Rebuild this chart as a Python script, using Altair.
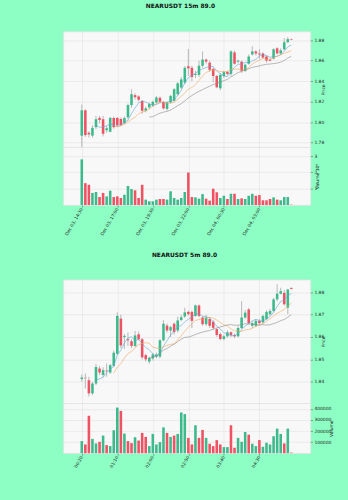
import json
import altair as alt
import pandas as pd

BG = "#8dffc4"
UP = "#3cba8c"
DOWN = "#ef5262"
WICK = "#8c8c8c"
FACE = "#f8f8f8"
GRID = "#dedede"
FONT = "DejaVu Sans"
MA_WINDOWS = [5, 10, 20]
MA_COLORS = ["#5ea3d6", "#f2a65a", "#8a8a8a"]

title_15 = "NEARUSDT 15m 89.0"
title_5 = "NEARUSDT 5m 89.0"
labels_15 = ["Dec 03, 14:30", "Dec 03, 17:00", "Dec 03, 19:30",
             "Dec 03, 22:00", "Dec 04, 00:30", "Dec 04, 03:00"]
labels_5 = ["00:20", "01:10", "02:00", "02:50", "03:40", "04:30"]
tick_index = [0, 10, 20, 30, 40, 50]

# ---- 15m candles ----
open_15 = [1.7867, 1.8115, 1.7896, 1.7867, 1.7950, 1.8041, 1.8028, 1.7920, 1.7906, 1.8040,
           1.8040, 1.8030, 1.7990, 1.8047, 1.8166, 1.8263, 1.8250, 1.8208, 1.8111, 1.8143,
           1.8160, 1.8192, 1.8237, 1.8198, 1.8128, 1.8192, 1.8208, 1.8272, 1.8337, 1.8385,
           1.8545, 1.8530, 1.8460, 1.8460, 1.8550, 1.8610, 1.8580, 1.8520, 1.8450, 1.8330,
           1.8450, 1.8490, 1.8470, 1.8680, 1.8590, 1.8590, 1.8500, 1.8570, 1.8660, 1.8690,
           1.8670, 1.8670, 1.8640, 1.8610, 1.8620, 1.8720, 1.8670, 1.8710, 1.8780, 1.8810]
close_15 = [1.8115, 1.7873, 1.7880, 1.7944, 1.8028, 1.8021, 1.7886, 1.7940, 1.8041, 1.7950,
            1.7970, 1.7970, 1.8040, 1.8166, 1.8272, 1.8243, 1.8218, 1.8111, 1.8134, 1.8176,
            1.8198, 1.8240, 1.8198, 1.8134, 1.8192, 1.8256, 1.8321, 1.8378, 1.8417, 1.8530,
            1.8525, 1.8440, 1.8470, 1.8550, 1.8610, 1.8590, 1.8510, 1.8450, 1.8340, 1.8460,
            1.8490, 1.8470, 1.8690, 1.8570, 1.8600, 1.8500, 1.8560, 1.8640, 1.8690, 1.8670,
            1.8660, 1.8630, 1.8600, 1.8600, 1.8710, 1.8670, 1.8700, 1.8780, 1.8810, 1.8805]
high_15 = [1.8170, 1.8125, 1.7910, 1.7970, 1.8060, 1.8060, 1.8060, 1.7965, 1.8050, 1.8055,
           1.8050, 1.8045, 1.8055, 1.8180, 1.8320, 1.8280, 1.8262, 1.8215, 1.8150, 1.8190,
           1.8210, 1.8255, 1.8250, 1.8205, 1.8200, 1.8265, 1.8330, 1.8390, 1.8440, 1.8545,
           1.8713, 1.8550, 1.8500, 1.8600, 1.8690, 1.8620, 1.8600, 1.8530, 1.8460, 1.8480,
           1.8500, 1.8500, 1.8700, 1.8700, 1.8610, 1.8600, 1.8570, 1.8660, 1.8740, 1.8700,
           1.8710, 1.8680, 1.8650, 1.8620, 1.8720, 1.8730, 1.8720, 1.8820, 1.8830, 1.8815]
low_15 = [1.7728, 1.7855, 1.7850, 1.7850, 1.7930, 1.7990, 1.7860, 1.7895, 1.7900, 1.7935,
          1.7955, 1.7960, 1.7980, 1.8030, 1.8140, 1.8220, 1.8200, 1.8080, 1.8095, 1.8125,
          1.8150, 1.8180, 1.8185, 1.8120, 1.8110, 1.8180, 1.8200, 1.8260, 1.8325, 1.8370,
          1.8450, 1.8400, 1.8430, 1.8440, 1.8530, 1.8570, 1.8490, 1.8390, 1.8330, 1.8310,
          1.8430, 1.8455, 1.8450, 1.8560, 1.8575, 1.8480, 1.8490, 1.8560, 1.8650, 1.8650,
          1.8620, 1.8620, 1.8580, 1.8590, 1.8610, 1.8660, 1.8660, 1.8700, 1.8770, 1.8800]
volume_15 = [2800000, 1340000, 1240000, 740000, 800000, 490000, 740000, 530000, 880000, 490000,
             530000, 430000, 630000, 1170000, 980000, 900000, 430000, 1240000, 330000, 230000,
             230000, 330000, 370000, 370000, 330000, 840000, 430000, 330000, 430000, 800000,
             1990000, 490000, 470000, 390000, 670000, 390000, 270000, 1000000, 780000, 430000,
             570000, 370000, 690000, 690000, 370000, 410000, 370000, 570000, 690000, 570000,
             610000, 290000, 290000, 370000, 470000, 330000, 290000, 490000, 490000, 20000]

# ---- 5m candles ----
open_5 = [1.8412, 1.8418, 1.8407, 1.8348, 1.8392, 1.8459, 1.8430, 1.8450, 1.8441, 1.8471,
          1.8525, 1.8682, 1.8600, 1.8590, 1.8581, 1.8560, 1.8612, 1.8590, 1.8519, 1.8490,
          1.8504, 1.8512, 1.8512, 1.8585, 1.8651, 1.8629, 1.8659, 1.8629, 1.8676, 1.8691,
          1.8712, 1.8712, 1.8694, 1.8741, 1.8687, 1.8657, 1.8680, 1.8668, 1.8635, 1.8613,
          1.8591, 1.8603, 1.8621, 1.8609, 1.8603, 1.8640, 1.8687, 1.8723, 1.8650, 1.8650,
          1.8672, 1.8665, 1.8680, 1.8702, 1.8716, 1.8768, 1.8793, 1.8797, 1.8731, 1.8819]
close_5 = [1.8419, 1.8416, 1.8348, 1.8392, 1.8466, 1.8441, 1.8452, 1.8447, 1.8474, 1.8530,
           1.8694, 1.8562, 1.8605, 1.8585, 1.8560, 1.8607, 1.8590, 1.8509, 1.8500, 1.8507,
           1.8522, 1.8522, 1.8585, 1.8659, 1.8629, 1.8644, 1.8622, 1.8674, 1.8688, 1.8710,
           1.8702, 1.8672, 1.8741, 1.8694, 1.8657, 1.8687, 1.8650, 1.8641, 1.8609, 1.8591,
           1.8603, 1.8621, 1.8609, 1.8603, 1.8640, 1.8687, 1.8709, 1.8662, 1.8662, 1.8672,
           1.8662, 1.8694, 1.8712, 1.8716, 1.8768, 1.8793, 1.8805, 1.8746, 1.8812, 1.8815]
high_5 = [1.8432, 1.8437, 1.8422, 1.8400, 1.8480, 1.8470, 1.8465, 1.8481, 1.8480, 1.8540,
          1.8710, 1.8700, 1.8613, 1.8620, 1.8590, 1.8627, 1.8625, 1.8595, 1.8525, 1.8512,
          1.8528, 1.8530, 1.8590, 1.8675, 1.8660, 1.8650, 1.8665, 1.8690, 1.8700, 1.8730,
          1.8718, 1.8718, 1.8745, 1.8745, 1.8692, 1.8700, 1.8688, 1.8675, 1.8640, 1.8620,
          1.8610, 1.8630, 1.8625, 1.8615, 1.8650, 1.8760, 1.8720, 1.8730, 1.8670, 1.8680,
          1.8680, 1.8700, 1.8720, 1.8725, 1.8775, 1.8835, 1.8820, 1.8810, 1.8815, 1.8822]
low_5 = [1.8400, 1.8370, 1.8334, 1.8340, 1.8385, 1.8430, 1.8420, 1.8422, 1.8435, 1.8465,
         1.8520, 1.8550, 1.8547, 1.8560, 1.8550, 1.8555, 1.8585, 1.8500, 1.8490, 1.8480,
         1.8495, 1.8505, 1.8505, 1.8580, 1.8620, 1.8600, 1.8610, 1.8620, 1.8670, 1.8685,
         1.8695, 1.8640, 1.8690, 1.8688, 1.8650, 1.8650, 1.8640, 1.8630, 1.8600, 1.8585,
         1.8585, 1.8598, 1.8600, 1.8595, 1.8598, 1.8635, 1.8680, 1.8655, 1.8640, 1.8645,
         1.8655, 1.8660, 1.8675, 1.8695, 1.8710, 1.8760, 1.8790, 1.8740, 1.8702, 1.8812]
volume_5 = [109000, 79000, 338000, 129000, 88000, 103000, 159000, 73000, 64000, 207000,
            412000, 382000, 177000, 109000, 91000, 144000, 114000, 183000, 147000, 64000,
            174000, 79000, 100000, 233000, 183000, 147000, 159000, 174000, 368000, 353000,
            138000, 79000, 252000, 138000, 210000, 138000, 85000, 64000, 118000, 79000,
            55000, 55000, 252000, 49000, 138000, 103000, 191000, 167000, 85000, 64000,
            118000, 58000, 94000, 79000, 153000, 222000, 174000, 88000, 222000, 5000]

X_DOMAIN = [-3.82, 62.98]
PANEL_W = 250


def frame(o, h, l, c, v):
    return pd.DataFrame({"i": list(range(len(o))), "o": o, "h": h, "l": l, "c": c, "v": v})


def figure(df, title, labels, price_dom, price_ticks, p_h, vol_dom, vol_ticks,
           vol_expr, vol_title, v_h, title_offset):
    xs = alt.Scale(domain=X_DOMAIN, nice=False, zero=False)
    updown = alt.condition("datum.c >= datum.o", alt.value(UP), alt.value(DOWN))
    x_ax = alt.Axis(values=tick_index, labels=False, ticks=False, domain=False, title=None,
                    grid=True, minExtent=0, maxExtent=0, offset=0)
    ys = alt.Scale(domain=price_dom, nice=False, zero=False)
    yax = alt.Axis(orient="right", values=price_ticks, format=".2f", title="Price",
                   titleAngle=270, titlePadding=2, grid=True, labelOverlap=False)

    def X():
        return alt.X("i:Q", scale=xs, axis=x_ax)

    def Y(field):
        return alt.Y(field, scale=ys, axis=yax, title="Price")

    base = alt.Chart(df)
    wick = base.mark_rule(color=WICK, strokeWidth=0.6).encode(x=X(), y=Y("l:Q"), y2="h:Q")
    body = base.mark_bar(width=2.6).encode(x=X(), y=Y("o:Q"), y2="c:Q", color=updown)
    mas = []
    for n, col in zip(MA_WINDOWS, MA_COLORS):
        mas.append(
            base.transform_window(ma="mean(c)", cnt="count()", frame=[-(n - 1), 0],
                                  sort=[alt.SortField("i")])
            .transform_filter(alt.datum.cnt >= n)
            .mark_line(color=col, strokeWidth=0.6)
            .encode(x=X(), y=Y("ma:Q"))
        )
    price = alt.layer(wick, body, *mas).properties(width=PANEL_W, height=p_h)

    lab_js = json.dumps(labels)
    vol = base.mark_bar(width=2.6).encode(
        x=alt.X("i:Q", scale=xs, axis=alt.Axis(values=tick_index, labelExpr=f"{lab_js}[datum.value / 10]",
                                                labelAngle=-60, labelAlign="right", labelBaseline="middle",
                                                title=None, grid=True, ticks=True, labelPadding=1,
                                                labelOverlap=False)),
        y=alt.Y("v:Q", scale=alt.Scale(domain=vol_dom, nice=False),
                axis=alt.Axis(orient="right", values=vol_ticks, labelExpr=vol_expr, title=vol_title,
                              titleAngle=270, titlePadding=3, grid=True, labelOverlap=False)),
        color=updown,
    ).properties(width=PANEL_W, height=v_h)

    return alt.vconcat(price, vol, spacing=0, bounds="flush").properties(
        title=alt.TitleParams(title, fontSize=6, font=FONT, fontWeight="bold", anchor="middle",
                              dx=-14, offset=title_offset, color="#111111"))


df15 = frame(open_15, high_15, low_15, close_15, volume_15)
df5 = frame(open_5, high_5, low_5, close_5, volume_5)

fig1 = figure(df15, title_15, labels_15, [1.7755, 1.8884], [1.78, 1.80, 1.82, 1.84, 1.86, 1.88], 117,
              [0, 3545000], [1000000, 2000000, 3000000], "format(datum.value / 1000000, 'd')",
              "Volume  10⁶", 58.5, 22)
fig2 = figure(df5, title_5, labels_5, [1.8304, 1.8856], [1.84, 1.85, 1.86, 1.87, 1.88], 125,
              [0, 451000], [100000, 200000, 300000, 400000], "format(datum.value, 'd')",
              "Volume", 50.5, 22)

chart = alt.vconcat(fig1, fig2, spacing=14).properties(
    padding={"left": 63, "top": 0, "right": 14, "bottom": 30},
    background=BG,
).configure_view(
    fill=FACE, stroke="#e2e2e2", strokeWidth=0.8
).configure_axis(
    gridColor=GRID, gridWidth=0.5, labelFont=FONT, titleFont=FONT, labelFontSize=4.5,
    titleFontSize=4.5, titleFontWeight="normal", tickColor="#444444", tickSize=2, tickWidth=0.5,
    domain=False, labelColor="#222222", titleColor="#222222", labelPadding=1.5
)

chart.save("out.html", embed_options={"renderer": "svg", "actions": False})
